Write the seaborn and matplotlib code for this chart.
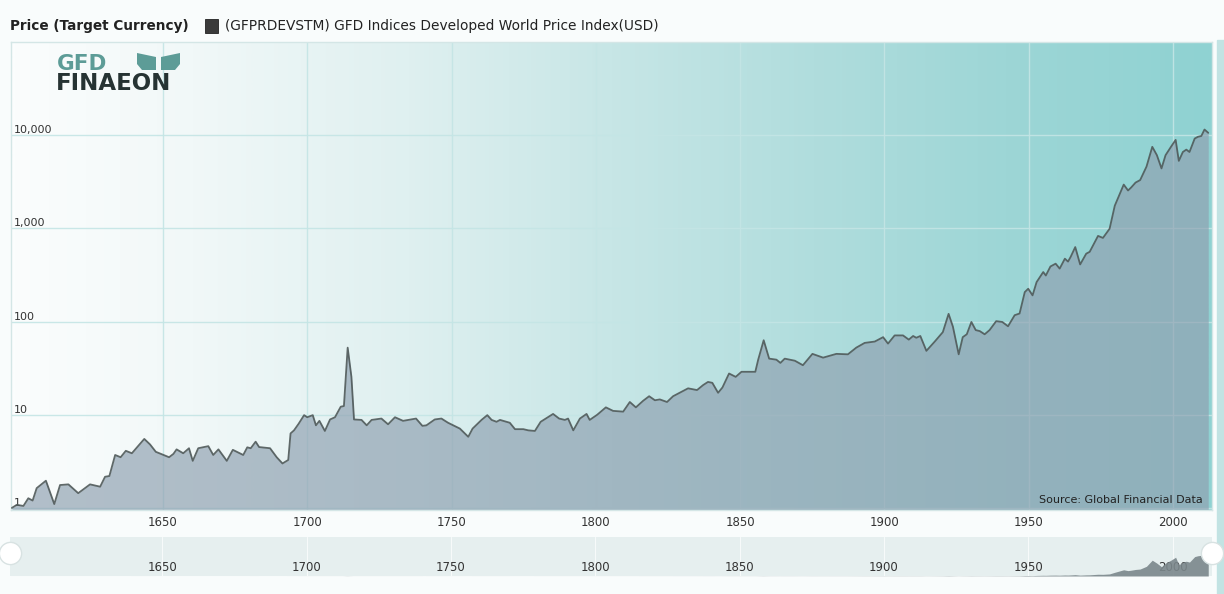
"""
GFD Developed World Price Index, 1600-2012 (log scale area chart)
"""

# Libraries
import numpy as np
import pandas as pd
import seaborn as sns
import matplotlib.pyplot as plt
from matplotlib.colors import LinearSegmentedColormap
from matplotlib.patches import Polygon, Rectangle

# Seaborn
sns.set_theme(style="white")
plt.rcParams['font.family'] = ['DejaVu Sans']

# ---------------------------------
# Data
# ---------------------------------
years = [1597.6, 1599.3, 1601.6, 1603.3, 1604.8, 1606.2, 1609.4, 1612.3, 1614.3, 1617.2,
         1620.6, 1624.7, 1628.2, 1629.9, 1631.4, 1633.4, 1635.3, 1637.1, 1639.2, 1643.5,
         1645.5, 1647.5, 1652.1, 1653.6, 1654.7, 1657.0, 1659.0, 1660.3, 1662.2, 1665.7,
         1667.4, 1669.2, 1672.1, 1674.2, 1677.8, 1679.2, 1680.4, 1682.1, 1683.3, 1687.1,
         1689.4, 1691.4, 1693.4, 1694.2, 1695.4, 1697.0, 1698.9, 1700.0, 1701.9, 1703.0,
         1704.2, 1706.1, 1707.9, 1709.6, 1711.6, 1712.7, 1714.0, 1715.3, 1716.2, 1718.8,
         1720.6, 1722.3, 1725.7, 1728.0, 1730.4, 1733.2, 1735.0, 1737.7, 1739.9, 1741.3,
         1744.2, 1746.5, 1748.8, 1752.9, 1755.8, 1757.3, 1760.4, 1762.4, 1763.9, 1765.6,
         1766.8, 1770.2, 1772.0, 1774.9, 1776.6, 1778.9, 1780.9, 1785.2, 1787.3, 1789.3,
         1790.4, 1792.2, 1794.5, 1796.8, 1797.9, 1800.5, 1803.5, 1806.0, 1809.5, 1811.8,
         1813.9, 1816.4, 1818.5, 1820.5, 1822.2, 1824.7, 1826.8, 1832.0, 1835.1, 1837.2,
         1838.9, 1840.4, 1842.4, 1843.9, 1846.2, 1848.5, 1850.5, 1853.4, 1855.3, 1856.3,
         1858.2, 1860.1, 1862.6, 1864.0, 1865.5, 1869.0, 1871.8, 1875.1, 1878.8, 1883.4,
         1887.4, 1890.3, 1893.2, 1896.7, 1899.6, 1901.3, 1903.6, 1906.5, 1908.5, 1910.0,
         1911.1, 1912.5, 1914.6, 1917.5, 1920.3, 1922.3, 1923.8, 1925.8, 1927.2, 1928.6,
         1930.2, 1931.7, 1933.1, 1934.8, 1936.5, 1938.8, 1940.9, 1942.9, 1945.2, 1946.9,
         1948.7, 1949.9, 1951.4, 1952.8, 1955.1, 1956.0, 1957.6, 1959.4, 1960.8, 1962.6,
         1963.7, 1964.6, 1966.2, 1967.9, 1970.0, 1971.2, 1974.1, 1975.8, 1978.1, 1979.9,
         1983.0, 1984.5, 1985.6, 1987.1, 1988.7, 1990.9, 1992.9, 1994.5, 1996.1, 1997.5,
         1999.5, 2001.0, 2002.1, 2003.5, 2004.7, 2005.8, 2007.6, 2008.7, 2009.9, 2011.0,
         2012.3]

index_values = [1.0, 1.08, 1.05, 1.27, 1.2, 1.63, 1.96, 1.1, 1.76, 1.79,
                1.44, 1.79, 1.69, 2.16, 2.2, 3.7, 3.5, 4.1, 3.86, 5.5,
                4.8, 4.0, 3.5, 3.8, 4.25, 3.86, 4.37, 3.2, 4.37, 4.6,
                3.7, 4.25, 3.2, 4.2, 3.7, 4.47, 4.37, 5.14, 4.5, 4.37,
                3.5, 3.0, 3.27, 6.3, 6.8, 8.0, 9.9, 9.4, 9.9, 7.7,
                8.6, 6.7, 8.9, 9.4, 12.2, 12.4, 52.5, 25.5, 8.9, 8.8,
                7.7, 8.8, 9.1, 7.9, 9.4, 8.6, 8.8, 9.1, 7.6, 7.7,
                8.9, 9.1, 8.2, 7.1, 5.8, 7.1, 8.8, 9.9, 8.8, 8.4,
                8.8, 8.2, 7.0, 7.0, 6.8, 6.7, 8.4, 10.2, 9.1, 8.8,
                9.1, 6.8, 9.1, 10.2, 8.8, 10.0, 12.0, 11.0, 10.8, 13.7,
                12.0, 14.1, 15.8, 14.3, 14.6, 13.7, 15.8, 19.2, 18.4, 20.8,
                22.5, 22.0, 17.2, 19.6, 27.7, 25.5, 28.9, 28.9, 28.9, 39,
                63, 40, 39, 36, 40, 38, 34, 45, 41, 45,
                44.5, 52.5, 59, 61, 68, 58, 71, 71, 64, 70,
                67, 70, 48.5, 61, 77, 121, 88, 44.5, 68, 73,
                99, 81, 79, 73, 81, 101, 99, 89, 117, 122,
                207, 225, 191, 265, 340, 312, 390, 418, 370, 473,
                440, 494, 630, 410, 535, 560, 830, 790, 990, 1750,
                2950, 2550, 2750, 3100, 3300, 4600, 7500, 6100, 4400, 6100,
                7600, 8900, 5300, 6600, 7000, 6600, 9200, 9600, 9800, 11500,
                10600]

tick_years = [1650, 1700, 1750, 1800, 1850, 1900, 1950, 2000]
y_ticks = [1, 10, 100, 1000, 10000]
y_tick_labels = ['1', '10', '100', '1,000', '10,000']

title_bold = "Price (Target Currency)"
series_name = "(GFPRDEVSTM) GFD Indices Developed World Price Index(USD)"
source_note = "Source: Global Financial Data"

data = pd.DataFrame({'year': years, 'value': index_values})

# ---------------------------------
# Layout helpers
# ---------------------------------
W, H = 1224, 594


def px(x, y):
    """Pixel (from top-left) to figure fraction."""
    return x / W, 1 - y / H


def box(x0, y0, x1, y1):
    """Pixel box to [left, bottom, width, height] in figure fraction."""
    return [x0 / W, 1 - y1 / H, (x1 - x0) / W, (y1 - y0) / H]


# ------------------------------------------------
# Plot
# ------------------------------------------------
f = plt.figure(figsize=(W / 100, H / 100), dpi=100)
f.patch.set_facecolor('#f9fcfc')

main_box = box(11, 42, 1212, 510)
xlim = (1597.3, 2013.6)

# Gradient background behind the plot area
bg = f.add_axes(main_box, zorder=0)
grad_cmap = LinearSegmentedColormap.from_list(
    'gfd', [(0.0, '#fbfdfd'), (0.15, '#f1f8f8'), (0.33, '#dff0f0'),
            (0.5, '#c7e6e6'), (0.67, '#b0dddd'), (0.83, '#9dd6d6'),
            (1.0, '#8fd2d2')])
bg.imshow(np.linspace(0, 1, 512).reshape(1, -1), aspect='auto',
          cmap=grad_cmap, extent=[0, 1, 0, 1])
bg.set_axis_off()

ax = f.add_axes(main_box, zorder=1)
ax.set_facecolor('none')
ax.set_yscale('log')

# Area + line
ax.fill_between(data.year, data.value, 0.5, color='#8fa1b1', alpha=0.68,
                linewidth=0, zorder=2)
sns.lineplot(data=data, x='year', y='value', ax=ax, color='#4f5959',
             linewidth=1.3, alpha=0.9, zorder=3)

ax.set_xlim(*xlim)
ax.set_ylim(0.95, 1e5)
ax.set(xlabel='', ylabel='')

# Ticks and grid
ax.set_xticks(tick_years)
ax.set_xticklabels([str(y) for y in tick_years])
ax.set_yticks(y_ticks)
ax.set_yticklabels(y_tick_labels)
ax.yaxis.set_minor_locator(plt.NullLocator())
ax.tick_params(axis='x', length=0, pad=4.5, labelsize=8.5, colors='#333333')
ax.tick_params(axis='y', length=0, pad=-2, labelsize=8, colors='#333333')
for lab in ax.get_yticklabels():
    lab.set_horizontalalignment('left')
    lab.set_verticalalignment('bottom')
ax.grid(True, which='major', color='#c4e5e5', linewidth=1.0, alpha=0.9, zorder=1)
ax.set_axisbelow(True)
for s in ax.spines.values():
    s.set_color('#d4e6e6')
    s.set_linewidth(1.0)

ax.text(0.9925, 0.01, source_note, transform=ax.transAxes, ha='right',
        va='bottom', fontsize=8, color='#222222', zorder=4)

# Navigator strip
nav = f.add_axes(box(10, 537, 1212, 576), zorder=1)
nav.set_facecolor('#e6efef')
nav.fill_between(data.year, data.value, color='#7b878b', alpha=0.9,
                 linewidth=0)
nav.set_xlim(*xlim)
nav.set_ylim(0, 18500)
nav.set_yticks([])
nav.set_xticks(tick_years)
nav.set_xticklabels([str(y) for y in tick_years])
nav.tick_params(axis='x', length=0, pad=-11, labelsize=8.5, colors='#333333')
nav.grid(True, axis='x', color='white', linewidth=0.8, alpha=0.7)
nav.set_axisbelow(True)
for s in nav.spines.values():
    s.set_visible(False)
for hx in (0.0, 1.0):
    nav.plot([hx], [0.6], marker='o', markersize=16, color='white',
             markeredgecolor='#d8e2e2', transform=nav.transAxes,
             clip_on=False, zorder=5)

# Right-hand bar
f.add_artist(Rectangle(px(1217, 594), 7 / W, 554 / H,
                       transform=f.transFigure, color='#c2e3e3', zorder=0))

# Header
f.text(*px(10, 26), title_bold, fontsize=9.8, fontweight='bold',
       color='#222222', va='center', ha='left')
f.add_artist(Rectangle(px(205, 33), 13 / W, 14 / H, transform=f.transFigure,
                       facecolor='#3b3b3b', edgecolor='#222222', lw=0.6))
f.text(*px(225, 26), series_name, fontsize=9.95, color='#222222',
       va='center', ha='left')

# Logo
f.text(*px(57, 70), "GFD", fontsize=15.5, fontweight='bold', color='#5d9c97',
       va='baseline', ha='left', zorder=6)
leaf_l = [px(137, 53), px(156, 57), px(156, 70), px(142, 70), px(137, 64)]
leaf_r = [px(180, 53), px(161, 57), px(161, 70), px(175, 70), px(180, 64)]
for leaf in (leaf_l, leaf_r):
    f.add_artist(Polygon(leaf, closed=True, transform=f.transFigure,
                         facecolor='#5d9c97', edgecolor='none', zorder=6))
f.text(*px(56, 90), "FINAEON", fontsize=16.5, fontweight='bold',
       color='#263333', va='baseline', ha='left', zorder=6)

# Save
f.savefig('out.png', dpi=100, facecolor=f.get_facecolor())
